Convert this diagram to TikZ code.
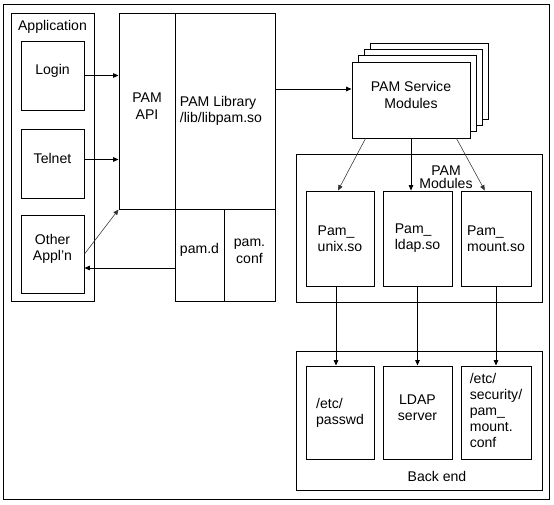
\documentclass[tikz,border=0pt]{standalone}
\usepackage{fontspec}
\setmainfont{Liberation Sans}
\usetikzlibrary{arrows.meta,positioning,fit,calc}
\tikzset{
  box/.style={draw, line width=0.7pt, inner sep=0pt, align=center},
  ltext/.style={align=left, inner sep=0pt},
  arrow/.style={-{Triangle[length=3.8pt,width=3.2pt]}, line width=0.6pt},
  thinarrow/.style={arrow, line width=0.4pt, black!80}
}
\begin{document}
\begin{tikzpicture}[x=0.025cm, y=-0.025cm, font=\fontsize{10}{11.5}\selectfont]
    \useasboundingbox (0,0) rectangle (554,505);
    \draw[line width=0.7pt] (3,4) rectangle (549,499);
    \node[box, fit={(11,13) (94,301)}] (app) {};
    \node (apptitle) at (52.5,26.5) {Application};
    \node[box, fit={(21,41) (84,110)}] (login) {Login};
    \node[box, fit={(21,129) (84,198)}] (telnet) {Telnet};
    \node[box, fit={(21,215) (84,293)}] (other) {Other\\Appl'n};
    \node[box, fit={(119,13) (175,209)}] (api) {PAM\\API};
    \node[box, fit={(175,13) (275,209)}] (lib) {};
    \node[ltext] (libtext) at ([xshift=-0.1cm]lib) {PAM Library\\/lib/libpam.so};
    \node[box, fit={(175,209) (224,301)}] (pamd) {pam.d};
    \node[box, fit={(224,209) (275,301)}] (pamconf) {pam.\\conf};
    \foreach \i in {3,2,1}
      \node[box, fill=white, fit={(352+6*\i,62-6.3*\i) (470+6*\i,138-6.3*\i)}] (svc\i) {};
    \node[box, fill=white, fit={(352,62) (470,138)}] (svc) {PAM Service\\Modules};
    \node[box, fit={(296,154) (542,302)}] (modules) {};
    \node[font=\fontsize{10}{9}\selectfont, align=center] (modtitle) at (446,177) {PAM\\Modules};
    \node[box, fit={(306,191) (374,286)}] (unix) {};
    \node[box, fit={(383,191) (452,286)}] (ldap) {};
    \node[box, fit={(461,191) (531,286)}] (mount) {};
    \node[ltext] (unixtext) at (unix) {Pam\_\\unix.so};
    \node[ltext] (ldaptext) at (ldap) {Pam\_\\ldap.so};
    \node[ltext] (mounttext) at (mount) {Pam\_\\mount.so};
    \node[box, fit={(296,351) (542,490)}] (backend) {};
    \node (betitle) at (437,476) {Back end};
    \node[box, fit={(306,366) (374,459)}] (passwd) {};
    \node[box, fit={(383,366) (452,459)}] (ldapsrv) {LDAP\\server};
    \node[box, fit={(461,366) (531,459)}] (mntconf) {};
    \node[ltext] (passwdtext) at (passwd) {/etc/\\passwd};
    \node[ltext] (mnttext) at ([yshift=0.05cm]mntconf) {/etc/\\security/\\pam\_\\mount.\\conf};
    \draw[arrow] (login.east) -- (login.east -| api.west);
    \draw[arrow] ([yshift=0.1cm]telnet.east) -- ([yshift=0.1cm]telnet.east -| api.west);
    \draw[thinarrow] (other.east) -- (api.south west);
    \coordinate (ret) at ([yshift=-0.325cm]pamd.west);
    \draw[arrow] (ret) -- (ret -| other.east);
    \coordinate (libout) at ([yshift=0.55cm]lib.east);
    \draw[arrow] (libout) -- (libout -| svc.west);
    \draw[thinarrow] ([xshift=0.35cm]svc.south west) -- ([xshift=-0.05cm]unix.north);
    \draw[arrow] (svc.south) -- (svc.south |- ldap.north);
    \draw[thinarrow] ([xshift=-0.35cm]svc.south east) -- ([xshift=-0.28cm]mount.north);
    \draw[arrow] ([xshift=-0.1cm]unix.south) -- ([xshift=-0.1cm]passwd.north);
    \draw[arrow] (ldap.south) -- (ldapsrv.north);
    \draw[arrow] (mount.south) -- (mntconf.north);
  \end{tikzpicture}
\end{document}
